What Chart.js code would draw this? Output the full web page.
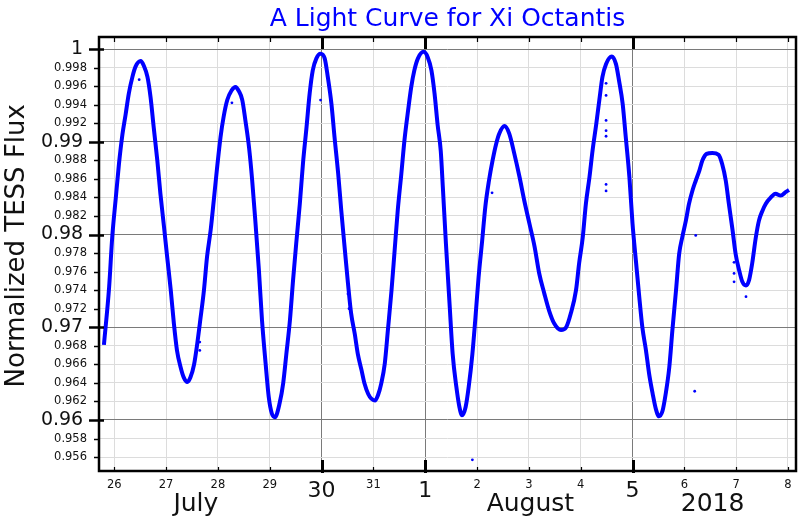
<!DOCTYPE html>
<html><head><meta charset="utf-8">
<script src="https://cdn.jsdelivr.net/npm/chart.js@4/dist/chart.umd.min.js"></script>
<style>html,body{margin:0;padding:0;background:#fff}canvas{display:block}</style>
</head><body>
<canvas id="c" width="800" height="520"></canvas>
<script>
// Time in days counted from the start of July (Aug 1 = 32)
const timeDays = [
25.80,25.90,25.96,26.03,26.09,26.15,26.22,26.28,26.35,26.41,26.51,26.57,26.64,26.70,26.76,26.83,26.89,26.96,
27.02,27.09,27.15,27.21,27.28,27.34,27.41,27.47,27.54,27.60,27.66,27.73,27.79,27.86,27.92,27.98,
28.05,28.11,28.18,28.26,28.34,28.40,28.47,28.53,28.60,28.66,28.72,28.79,28.85,28.92,28.98,
29.04,29.10,29.19,29.26,29.32,29.39,29.45,29.51,29.58,29.64,29.71,29.77,29.83,29.90,29.98,
30.06,30.12,30.19,30.25,30.32,30.38,30.45,30.51,30.57,30.64,30.70,30.77,30.83,30.90,30.96,
31.03,31.09,31.15,31.22,31.28,31.35,31.41,31.47,31.54,31.60,31.67,31.73,31.79,31.86,31.97,
32.05,32.12,32.18,32.24,32.30,32.34,32.40,32.47,32.53,32.60,32.66,32.71,32.78,32.84,32.91,32.97,
33.03,33.10,33.16,33.23,33.30,33.37,33.43,33.53,33.62,33.72,33.82,33.91,
34.01,34.11,34.20,34.30,34.39,34.49,34.62,34.72,34.81,34.91,34.97,
35.04,35.10,35.17,35.23,35.30,35.36,35.42,35.49,35.60,35.68,35.74,35.81,35.87,35.94,
36.00,36.07,36.13,36.19,36.26,36.32,36.39,36.45,36.51,36.58,36.64,36.71,36.77,36.84,36.90,36.96,
37.03,37.09,37.16,37.22,37.29,37.35,37.43,37.54,37.66,37.73,37.80,37.86,37.93,37.99,
38.06,38.12,38.19,38.25,38.31,38.38,38.44,38.51,38.57,38.67,38.76,38.86,38.96,39.02
];
const flux = [
0.9681,0.9743,0.9797,0.9840,0.9876,0.9905,0.9930,0.9952,0.9970,0.9981,0.9987,0.9982,0.9970,0.9948,0.9916,0.9880,0.9844,0.9808,
0.9776,0.9740,0.9704,0.9675,0.9657,0.9646,0.9641,0.9646,0.9660,0.9682,0.9708,0.9740,0.9776,0.9805,0.9837,0.9870,
0.9905,0.9927,0.9945,0.9955,0.9959,0.9955,0.9945,0.9923,0.9894,0.9859,0.9816,0.9762,0.9708,0.9661,0.9625,
0.9607,0.9603,0.9618,0.9640,0.9671,0.9708,0.9751,0.9790,0.9833,0.9876,0.9916,0.9952,0.9977,0.9990,0.9995,
0.9990,0.9970,0.9941,0.9905,0.9866,0.9826,0.9783,0.9747,0.9715,0.9693,0.9671,0.9654,0.9639,0.9628,0.9623,
0.9621,0.9627,0.9639,0.9661,0.9697,0.9740,0.9783,0.9826,0.9866,0.9902,0.9934,0.9959,0.9977,0.9990,0.9997,
0.9991,0.9977,0.9952,0.9918,0.9890,0.9851,0.9790,0.9725,0.9671,0.9636,0.9614,0.9605,0.9614,0.9636,0.9671,0.9711,
0.9754,0.9794,0.9830,0.9858,0.9880,0.9898,0.9909,0.9917,0.9909,0.9887,0.9862,0.9837,
0.9812,0.9787,0.9758,0.9736,0.9718,0.9704,0.9697,0.9700,0.9715,0.9740,0.9769,
0.9797,0.9833,0.9862,0.9891,0.9919,0.9945,0.9970,0.9984,0.9992,0.9984,0.9966,0.9941,0.9905,0.9862,
0.9812,0.9769,0.9733,0.9700,0.9675,0.9650,0.9628,0.9612,0.9604,0.9610,0.9628,0.9657,0.9697,0.9740,0.9779,0.9797,
0.9815,0.9833,0.9848,0.9858,0.9869,0.9880,0.9887,0.9888,0.9886,0.9876,0.9858,0.9833,0.9805,0.9779,
0.9761,0.9749,0.9745,0.9751,0.9769,0.9797,0.9815,0.9826,0.9833,0.9840,0.9844,0.9842,0.9846,0.9848
];
const outlierDays = [26.48,27.65,27.65,28.27,29.98,30.51,30.53,32.91,33.29,35.49,35.49,35.49,35.49,35.49,35.49,35.49,37.20,37.22,37.96,37.96,37.96,38.19];
const outlierFlux = [0.9967,0.9684,0.9675,0.9942,0.9945,0.9736,0.9720,0.9557,0.9845,0.9963,0.9950,0.9923,0.9912,0.9906,0.9854,0.9847,0.9631,0.9799,0.9770,0.9758,0.9749,0.9733];

const dayTicks = [26,27,28,29,30,31,32,33,34,35,36,37,38,39];
const dayLabels = ['26','27','28','29','30','31','1','2','3','4','5','6','7','8'];
const majorDayTicks = [30,32,36];
const monthLabels = ['July','August','2018'];
const monthPositions = [27.574,34.03,37.545];
const fluxTicks = [0.956,0.958,0.96,0.962,0.964,0.966,0.968,0.97,0.972,0.974,0.976,0.978,0.98,0.982,0.984,0.986,0.988,0.99,0.992,0.994,0.996,0.998,1.0];
const fluxTickLabels = ['0.956','0.958','0.96','0.962','0.964','0.966','0.968','0.97','0.972','0.974','0.976','0.978','0.98','0.982','0.984','0.986','0.988','0.99','0.992','0.994','0.996','0.998','1'];
const majorFluxTicks = [0.96,0.97,0.98,0.99,1.0];

const FONT = "'DejaVu Sans', sans-serif";
const isMajorFlux = v => majorFluxTicks.some(m => Math.abs(m - v) < 1e-7);
const isMajorDay = v => majorDayTicks.includes(v);

const framePlugin = {
  id: 'frame',
  afterDraw(chart) {
    const {ctx, chartArea: {left, right, top, bottom}, scales: {x, y}} = chart;
    ctx.save();
    ctx.strokeStyle = '#000';
    dayTicks.forEach(v => {
      const px = Math.round(x.getPixelForValue(v)) + 0.5;
      const major = isMajorDay(v);
      ctx.lineWidth = major ? 3 : 1.2;
      ctx.beginPath();
      ctx.moveTo(px, bottom + (major ? 2 : 0));
      ctx.lineTo(px, bottom - (major ? 11 : 4));
      ctx.moveTo(px, top);
      ctx.lineTo(px, top + (major ? 12 : 5));
      ctx.stroke();
    });
    fluxTicks.forEach(v => {
      const py = Math.round(y.getPixelForValue(v)) + 0.5;
      const major = isMajorFlux(v);
      ctx.lineWidth = major ? 2.5 : 1.5;
      ctx.beginPath();
      ctx.moveTo(left - (major ? 10 : 5), py);
      ctx.lineTo(left + (major ? 5 : 0), py);
      ctx.stroke();
    });
    ctx.lineWidth = 2.5;
    ctx.strokeRect(left, top, right - left, bottom - top);
    ctx.restore();
  }
};

new Chart(document.getElementById('c'), {
  type: 'scatter',
  data: {
    datasets: [
      {
        data: timeDays.map((t, i) => ({x: t, y: flux[i]})),
        showLine: true,
        borderColor: '#0000ff',
        backgroundColor: '#0000ff',
        borderWidth: 4,
        pointRadius: 0,
        cubicInterpolationMode: 'monotone',
        fill: false
      },
      {
        data: outlierDays.map((t, i) => ({x: t, y: outlierFlux[i]})),
        showLine: false,
        backgroundColor: '#0000ff',
        borderWidth: 0,
        pointRadius: 1.4
      }
    ]
  },
  options: {
    responsive: false,
    animation: false,
    devicePixelRatio: 1,
    layout: {padding: {left: 0, right: 3, top: 0, bottom: 0}},
    plugins: {
      legend: {display: false},
      tooltip: {enabled: false},
      title: {
        display: true,
        fullSize: false,
        text: 'A Light Curve for Xi Octantis',
        color: '#0000ff',
        font: {family: FONT, size: 25, weight: 'normal'},
        padding: {top: 4, bottom: 3}
      }
    },
    scales: {
      x: {
        type: 'linear', position: 'bottom', weight: 0,
        min: 25.705, max: 39.155,
        afterBuildTicks: s => { s.ticks = dayTicks.map(v => ({value: v})); },
        afterFit: s => { s.height = 49; },
        grid: {color: c => isMajorDay(c.tick && c.tick.value) ? '#7a7a7a' : '#dcdcdc', lineWidth: 1, drawTicks: false},
        border: {display: false},
        ticks: {
          autoSkip: false, maxRotation: 0, minRotation: 0, padding: 7, color: '#111',
          font: c => ({family: FONT, size: isMajorDay(c.tick && c.tick.value) ? 22 : 11.5}),
          callback: (v, i) => dayLabels[i]
        }
      },
      x2: {
        type: 'linear', position: 'bottom', weight: 1,
        min: 25.705, max: 39.155,
        afterBuildTicks: s => { s.ticks = monthPositions.map(v => ({value: v})); },
        afterFit: s => { s.height = 0; },
        grid: {display: false, drawTicks: false},
        border: {display: false},
        ticks: {
          autoSkip: false, maxRotation: 0, minRotation: 0, mirror: true, padding: 1, color: '#111',
          font: {family: FONT, size: 25},
          callback: (v, i) => monthLabels[i]
        }
      },
      y: {
        type: 'linear', position: 'left',
        min: 0.9545, max: 1.0013,
        afterBuildTicks: s => { s.ticks = fluxTicks.map(v => ({value: v})); },
        afterFit: s => { s.width = 99; },
        grid: {color: c => isMajorFlux(c.tick && c.tick.value) ? '#7a7a7a' : '#dcdcdc', lineWidth: 1, drawTicks: false},
        border: {display: false},
        ticks: {
          autoSkip: false, padding: 12, color: '#111',
          font: c => ({family: FONT, size: isMajorFlux(c.tick && c.tick.value) ? 19 : 11.5}),
          callback: (v, i) => isMajorFlux(v) ? fluxTickLabels[i] + '\u2009' : fluxTickLabels[i]
        },
        title: {
          display: true,
          text: '\u00a0\u00a0Normalized TESS Flux',
          color: '#111',
          font: {family: FONT, size: 26},
          padding: {top: 2, bottom: 0}
        }
      }
    }
  },
  plugins: [framePlugin]
});
</script>
</body></html>
